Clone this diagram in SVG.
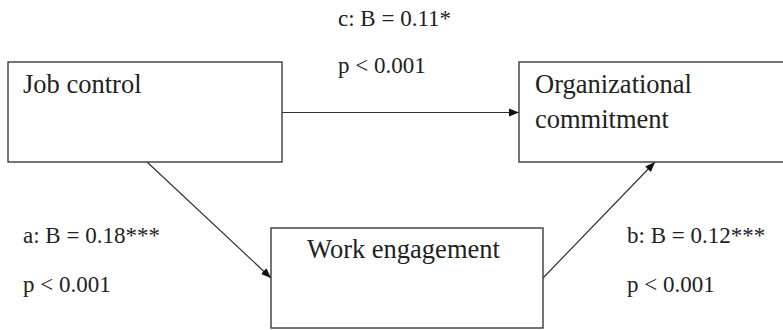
<svg xmlns="http://www.w3.org/2000/svg" width="783" height="330" viewBox="0 0 783 330">
<style>
.box{fill:#fff;stroke:#3a3a3a;stroke-width:1.4}
.nt{font-family:"Liberation Serif","Times New Roman",serif;font-size:26.5px;fill:#222}
.lt{font-family:"Liberation Serif","Times New Roman",serif;font-size:23px;fill:#222}
.conn{stroke:#333;stroke-width:1.2;fill:none;marker-end:url(#arr)}
</style>
<defs>
<marker id="arr" viewBox="0 0 10 10" refX="10" refY="5" markerWidth="10" markerHeight="10" markerUnits="userSpaceOnUse" orient="auto">
<path d="M0,1 L10,5 L0,9 Z" fill="#111"/>
</marker>
</defs>
<g id="connectors">
<line class="conn" x1="282" y1="112.5" x2="519" y2="112.5"/>
<line class="conn" x1="147" y1="162" x2="271" y2="278"/>
<line class="conn" x1="543" y1="278" x2="655" y2="162"/>
</g>
<g id="job-control">
<rect class="box" x="8" y="62" width="274" height="100"/>
<text class="nt" x="23" y="93">Job control</text>
</g>
<g id="organizational-commitment">
<rect class="box" x="519" y="62" width="280" height="100"/>
<text class="nt" x="535" y="93">Organizational</text>
<text class="nt" x="535" y="128">commitment</text>
</g>
<g id="work-engagement">
<rect class="box" x="271" y="228" width="272" height="100"/>
<text class="nt" x="307" y="258">Work engagement</text>
</g>
<g id="labels">
<text class="lt" x="338" y="26">c: B = 0.11*</text>
<text class="lt" x="338" y="73">p &lt; 0.001</text>
<text class="lt" x="23" y="243">a: B = 0.18***</text>
<text class="lt" x="23" y="292">p &lt; 0.001</text>
<text class="lt" x="627" y="243">b: B = 0.12***</text>
<text class="lt" x="627" y="292">p &lt; 0.001</text>
</g>
</svg>
